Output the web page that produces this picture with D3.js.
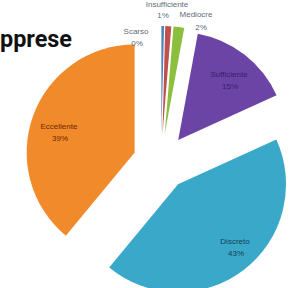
<!DOCTYPE html>
<html><head><meta charset="utf-8">
<script src="https://cdn.jsdelivr.net/npm/d3@7"></script>
<style>html,body{margin:0;padding:0;background:#fff;}svg{display:block;}</style>
</head><body>
<svg id="c" width="297" height="288"></svg>
<script>
// ---- data ----
const categories = ["Scarso", "Insufficiente", "Mediocre", "Sufficiente", "Discreto", "Eccellente"];
const values = [0.4, 0.9, 1.6, 15.3, 42.8, 39.0];
const pctLabels = ["0%", "1%", "2%", "15%", "43%", "39%"];
const colors = ["#4F81BD", "#C0504D", "#8DBF3F", "#6B44A6", "#3AA9C9", "#F18A2B"];
const titleText = "pprese";

// ---- layout ----
const W = 297, H = 288;
const cx = 161, cy = 162, R = 108, explode = 28;
// label anchor (name line), per category
const labelPos = [
  {x: 136, y: 32, fill: "#5f6b7a"},
  {x: 167, y: 5, fill: "#5f6b7a", pctX: 163, pctY: 16},
  {x: 196, y: 15, fill: "#5f6b7a", pctX: 201, pctY: 28},
  {x: 229, y: 75, fill: "#3a1f66"},
  {x: 235, y: 242, fill: "#173e55"},
  {x: 59, y: 127, fill: "#6a2a00"}
];

const svg = d3.select("#c");
const pie = d3.pie().sort(null).value(d => d)(values);
const arc = d3.arc().innerRadius(0).outerRadius(R);

const g = svg.append("g").attr("transform", `translate(${cx},${cy})`);
g.selectAll("path").data(pie).join("path")
  .attr("d", arc)
  .attr("fill", (d, i) => colors[i])
  .attr("transform", d => {
    const a = (d.startAngle + d.endAngle) / 2;
    return `translate(${explode * Math.sin(a)},${-explode * Math.cos(a)})`;
  });

// labels
const lab = svg.append("g").attr("font-family", "Liberation Sans, Arial, sans-serif").attr("font-size", 8);
categories.forEach((c, i) => {
  const p = labelPos[i];
  lab.append("text").attr("x", p.x).attr("y", p.y).attr("text-anchor", "middle")
    .attr("dominant-baseline", "middle").attr("fill", p.fill).text(c);
  lab.append("text").attr("x", p.pctX !== undefined ? p.pctX : p.x + 1)
    .attr("y", p.pctY !== undefined ? p.pctY : p.y + 12)
    .attr("text-anchor", "middle").attr("dominant-baseline", "middle")
    .attr("fill", p.fill).text(pctLabels[i]);
});

// title fragment
svg.append("text").attr("x", 0).attr("y", 47)
  .attr("font-family", "Roboto, sans-serif").attr("font-weight", 700)
  .attr("font-size", 24).attr("textLength", 72).attr("lengthAdjust", "spacingAndGlyphs")
  .attr("fill", "#111").text(titleText);
</script>
</body></html>
